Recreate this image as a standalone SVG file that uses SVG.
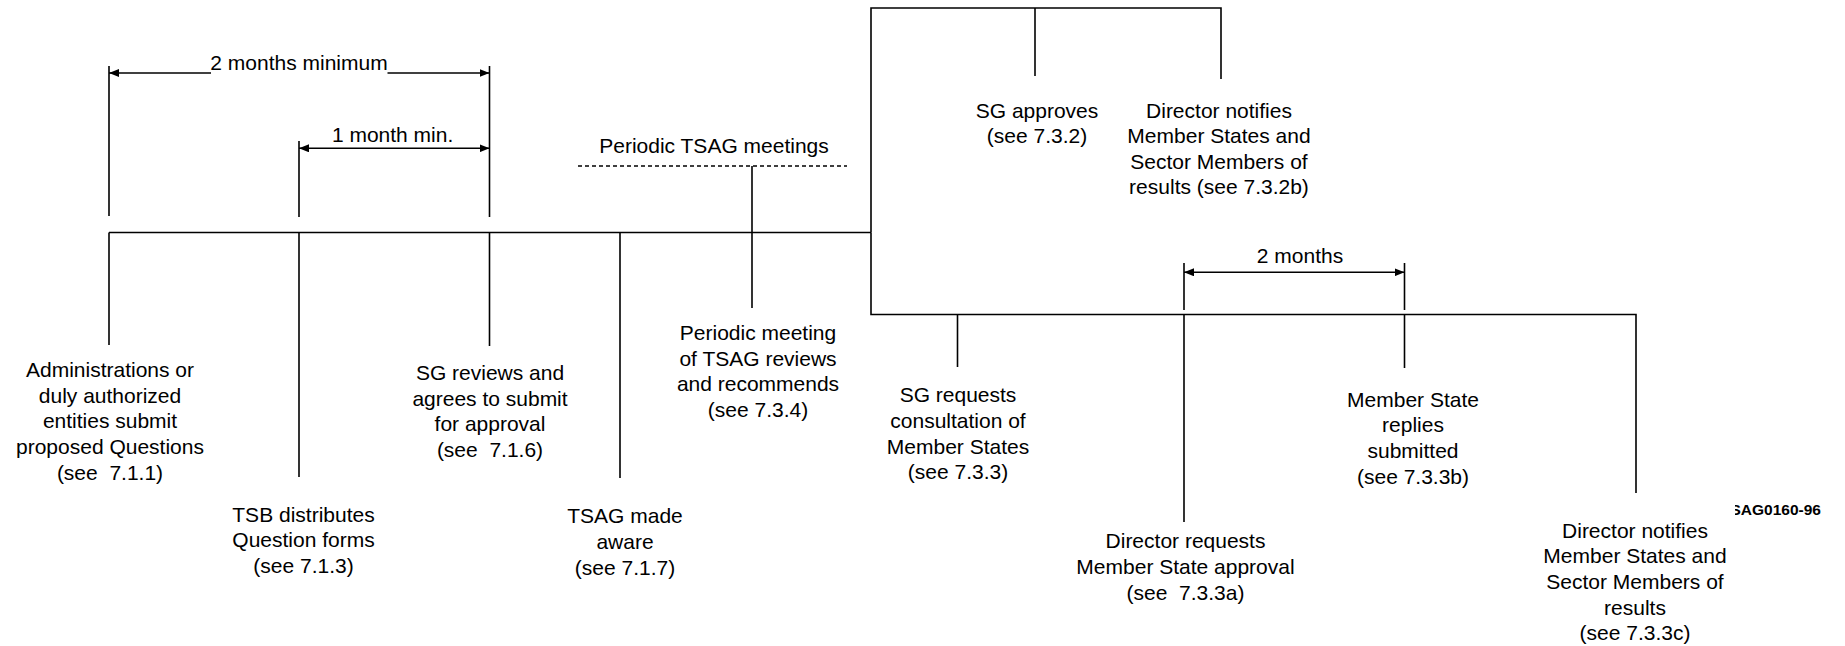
<svg xmlns="http://www.w3.org/2000/svg" width="1845" height="646" viewBox="0 0 1845 646">
<style>
text{font-family:"Liberation Sans",Arial,sans-serif;font-size:21px;fill:#000;text-anchor:middle}
.ln{fill:none;stroke:#000;stroke-width:1.6}
.dash{stroke-dasharray:4 3}
.code{font-size:15.5px;font-weight:bold;text-anchor:start}
</style>
<defs>
<marker id="ah" viewBox="0 0 10 8" refX="10" refY="4" markerWidth="10" markerHeight="8" markerUnits="userSpaceOnUse" orient="auto-start-reverse">
<path d="M0,0 L10,4 L0,8 z" fill="#000"/>
</marker>
<clipPath id="cut"><rect x="1735" y="480" width="110" height="50"/></clipPath>
</defs>
<rect width="1845" height="646" fill="#fff"/>
<g id="connectors">
<path class="ln" d="M109,232.5 H871"/>
<path class="ln" d="M871,232.5 V8 H1221 V79"/>
<path class="ln" d="M1035,8 V76"/>
<path class="ln" d="M871,232.5 V314.5 H1636 V493"/>
<path class="ln" d="M109,232.5 V345"/>
<path class="ln" d="M299,232.5 V477"/>
<path class="ln" d="M489.5,232.5 V346"/>
<path class="ln" d="M620,232.5 V478"/>
<path class="ln" d="M752,166 V308"/>
<path class="ln" d="M109,66 V216"/>
<path class="ln" d="M299,141 V217"/>
<path class="ln" d="M489.5,66 V217"/>
<path class="ln" d="M957.5,314.5 V367"/>
<path class="ln" d="M1184,314.5 V522"/>
<path class="ln" d="M1404.5,314.5 V368"/>
<path class="ln" d="M1184,263 V310"/>
<path class="ln" d="M1404.5,263 V310"/>
<path class="ln dash" d="M578,166 H847"/>
<path class="ln" d="M211,73 H109" marker-end="url(#ah)"/>
<path class="ln" d="M387.5,73 H489.5" marker-end="url(#ah)"/>
<path class="ln" d="M299,148.3 H489.5" marker-start="url(#ah)" marker-end="url(#ah)"/>
<path class="ln" d="M1184,272.3 H1404.5" marker-start="url(#ah)" marker-end="url(#ah)"/>
</g>
<g id="label-2months-min"><text x="299" y="70">2 months minimum</text></g>
<g id="label-1month-min"><text x="392.6" y="142">1 month min.</text></g>
<g id="label-periodic-tsag"><text x="714" y="153">Periodic TSAG meetings</text></g>
<g id="label-2months"><text x="1300" y="263">2 months</text></g>
<g id="n-admin"><text x="110" y="377" xml:space="preserve"><tspan x="110" y="377">Administrations or</tspan><tspan x="110" y="402.7">duly authorized</tspan><tspan x="110" y="428.3">entities submit</tspan><tspan x="110" y="454">proposed Questions</tspan><tspan x="110" y="479.7">(see  7.1.1)</tspan></text></g>
<g id="n-tsb"><text x="303.5" y="521.7"><tspan x="303.5" y="521.7">TSB distributes</tspan><tspan x="303.5" y="547.3">Question forms</tspan><tspan x="303.5" y="573">(see 7.1.3)</tspan></text></g>
<g id="n-sg-reviews"><text x="490" y="380" xml:space="preserve"><tspan x="490" y="380">SG reviews and</tspan><tspan x="490" y="405.7">agrees to submit</tspan><tspan x="490" y="431.3">for approval</tspan><tspan x="490" y="457">(see  7.1.6)</tspan></text></g>
<g id="n-tsag-aware"><text x="625" y="523.3"><tspan x="625" y="523.3">TSAG made</tspan><tspan x="625" y="549">aware</tspan><tspan x="625" y="574.7">(see 7.1.7)</tspan></text></g>
<g id="n-periodic-meeting"><text x="758" y="340"><tspan x="758" y="340">Periodic meeting</tspan><tspan x="758" y="365.7">of TSAG reviews</tspan><tspan x="758" y="391.3">and recommends</tspan><tspan x="758" y="417">(see 7.3.4)</tspan></text></g>
<g id="n-sg-approves"><text x="1037" y="117.5"><tspan x="1037" y="117.5">SG approves</tspan><tspan x="1037" y="143">(see 7.3.2)</tspan></text></g>
<g id="n-director-notifies-b"><text x="1219" y="117.5"><tspan x="1219" y="117.5">Director notifies</tspan><tspan x="1219" y="143">Member States and</tspan><tspan x="1219" y="168.5">Sector Members of</tspan><tspan x="1219" y="194">results (see 7.3.2b)</tspan></text></g>
<g id="n-sg-requests"><text x="958" y="402.3"><tspan x="958" y="402.3">SG requests</tspan><tspan x="958" y="428">consultation of</tspan><tspan x="958" y="453.7">Member States</tspan><tspan x="958" y="479.3">(see 7.3.3)</tspan></text></g>
<g id="n-director-requests"><text x="1185.5" y="548.3" xml:space="preserve"><tspan x="1185.5" y="548.3">Director requests</tspan><tspan x="1185.5" y="574">Member State approval</tspan><tspan x="1185.5" y="599.7">(see  7.3.3a)</tspan></text></g>
<g id="n-member-replies"><text x="1413" y="406.7"><tspan x="1413" y="406.7">Member State</tspan><tspan x="1413" y="432.3">replies</tspan><tspan x="1413" y="458">submitted</tspan><tspan x="1413" y="483.7">(see 7.3.3b)</tspan></text></g>
<g id="n-director-notifies-c"><text x="1635" y="537.7"><tspan x="1635" y="537.7">Director notifies</tspan><tspan x="1635" y="563.3">Member States and</tspan><tspan x="1635" y="589">Sector Members of</tspan><tspan x="1635" y="614.7">results</tspan><tspan x="1635" y="640.3">(see 7.3.3c)</tspan></text></g>
<g id="figure-code" clip-path="url(#cut)"><text class="code" x="1730.5" y="515">SAG0160-96</text></g>
</svg>
